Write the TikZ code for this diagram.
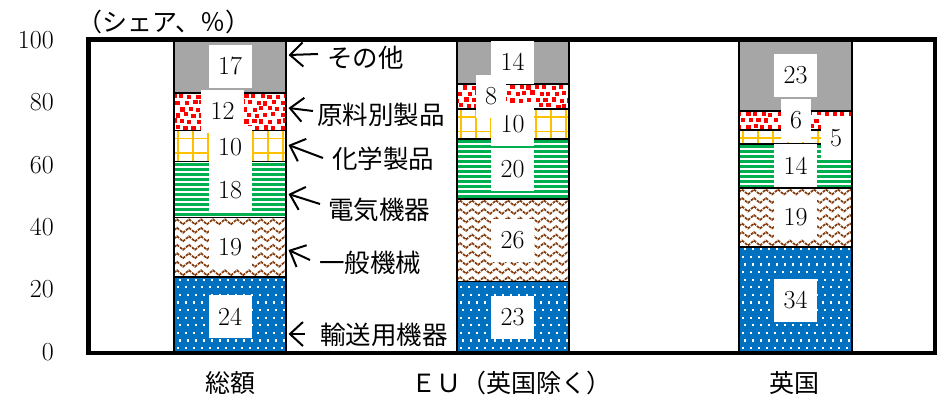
\documentclass[tikz,border=0pt]{standalone}
\usepackage{fontspec}
\newfontfamily\jp{Noto Sans CJK JP}
\usetikzlibrary{arrows.meta,decorations.pathmorphing}
\definecolor{greyc}{HTML}{A6A6A6}
\definecolor{redc}{HTML}{FF0000}
\definecolor{yelc}{HTML}{FFC000}
\definecolor{grnc}{HTML}{00B050}
\definecolor{brnc}{HTML}{843C0C}
\definecolor{bluc}{HTML}{0070C0}
% segment macros: #1 x-left, #2 y-top, #3 x-right, #4 y-bottom (pixel coords, y down)
\newcommand{\segGrey}[4]{\fill[greyc] (#1,#2) rectangle (#3,#4);}
\newcommand{\segRed}[4]{\begin{scope}
  \clip (#1,#2) rectangle (#3,#4);
  \fill[white] (#1,#2) rectangle (#3,#4);
  \foreach \ri in {0,...,7}{\foreach \ci in {0,...,15}{%
    \pgfmathsetmacro\px{#1-2+\ci*8+mod(\ri,2)*4+rnd*3-1.5}%
    \pgfmathsetmacro\py{#2+1+\ri*6.3+rnd*2-1}%
    \fill[redc] (\px,\py) rectangle ++(4.3,4.3);}}
  \end{scope}}
\newcommand{\segYel}[4]{\begin{scope}
  \clip (#1,#2) rectangle (#3,#4);
  \fill[white] (#1,#2) rectangle (#3,#4);
  \foreach \k in {0,...,8}{\draw[yelc,line width=1.7] ({#1+4.3+15*\k},#2) -- ({#1+4.3+15*\k},#4);}
  \foreach \k in {0,...,4}{\draw[yelc,line width=1.7] (#1,{#2+8+14.4*\k}) -- (#3,{#2+8+14.4*\k});}
  \end{scope}}
\newcommand{\segGrn}[4]{\begin{scope}
  \clip (#1,#2) rectangle (#3,#4);
  \fill[white] (#1,#2) rectangle (#3,#4);
  \foreach \k in {0,...,24}{\draw[grnc,line width=2.6] (#1,{#2+2.5+5*\k}) -- (#3,{#2+2.5+5*\k});}
  \end{scope}}
\newcommand{\segBrn}[4]{\begin{scope}
  \clip (#1,#2) rectangle (#3,#4);
  \fill[white] (#1,#2) rectangle (#3,#4);
  \foreach \k in {0,...,13}{\draw[brnc,line width=1.7,dash pattern=on 2.8pt off 1.1pt,
     decorate,decoration={zigzag,segment length=12pt,amplitude=2.5pt}]
     ({#1-12},{#2+4+8.5*\k}) -- ({#3+12},{#2+4+8.5*\k});}
  \end{scope}}
\newcommand{\segBlu}[4]{\begin{scope}
  \clip (#1,#2) rectangle (#3,#4);
  \fill[bluc] (#1,#2) rectangle (#3,#4);
  \foreach \ri in {0,...,14}{\foreach \ci in {0,...,14}{%
    \fill[white] ({#1+3+\ci*8+mod(\ri,2)*2},{#4-5-\ri*7.6}) rectangle ++(2.2,2.2);}}
  \end{scope}}
% #1 x1, #2 x2, #3 bottom, #4..#9 tops of blue, brown, green, yellow, red, grey
\newcommand{\stackbar}[9]{%
  \segBlu{#1}{#4}{#2}{#3}
  \segBrn{#1}{#5}{#2}{#4}
  \segGrn{#1}{#6}{#2}{#5}
  \segYel{#1}{#7}{#2}{#6}
  \segRed{#1}{#8}{#2}{#7}
  \segGrey{#1}{#9}{#2}{#8}
  \foreach \ya/\yb in {#3/#4,#4/#5,#5/#6,#6/#7,#7/#8,#8/#9}{\draw[segline] (#1,\ya) rectangle (#2,\yb);}}
\begin{document}
\begin{tikzpicture}[x=1pt,y=-1pt,
  segline/.style={black,line width=1.3},
  lbl/.style={fill=white,inner sep=0pt,minimum width=43pt,minimum height=43pt,
     font=\fontsize{26}{26}\selectfont},
  lbln/.style={lbl,minimum width=30pt},
  tick/.style={anchor=east,inner sep=0pt,font=\fontsize{26}{26}\selectfont},
  leg/.style={anchor=west,inner sep=0pt,font=\jp\fontsize{25.5}{26}\selectfont},
  cat/.style={inner sep=0pt,font=\jp\fontsize{25}{26}\selectfont},
  arr/.style={-{Straight Barb[length=13pt,width=24pt]},line width=2,black}]
\useasboundingbox (0,0) rectangle (938,400);
\pgfmathsetseed{7}
% bars
\stackbar{174}{286}{352}{277.1}{217.8}{161.7}{130.5}{93}{40}
\stackbar{457}{569}{352}{281.5}{199}{139}{109}{84}{40}
\stackbar{739}{852}{352}{247}{188}{144}{130}{111}{40}
% frame
\draw[line width=4.5] (88.5,39.5) rectangle (935,353);
% value labels
\node[lbl] (v1a) at (230,316.5) {24};
\node[lbl] (v1b) at (230,247.5) {19};
\node[lbl] (v1c) at (230,190) {18};
\node[lbl] (v1d) at (230,147) {10};
\node[lbl] (v1e) at (222.5,111) {12};
\node[lbl] (v1f) at (230,66) {17};
\node[lbl] (v2a) at (512.5,317) {23};
\node[lbl] (v2b) at (512.5,240) {26};
\node[lbl] (v2c) at (512.5,169) {20};
\node[lbl] (v2d) at (512.5,124) {10};
\node[lbl] (v2f) at (512.5,62) {14};
\node[lbln] (v2e) at (491,96.5) {8};
\node[lbl] (v3a) at (795.5,300.5) {34};
\node[lbl] (v3b) at (795.5,217.5) {19};
\node[lbl] (v3c) at (795.5,165.5) {14};
\node[lbln] (v3d) at (836,138.5) {5};
\node[lbln] (v3e) at (796,120.5) {6};
\node[lbl] (v3f) at (795.5,75.5) {23};
% y ticks
\node[tick] (t100) at (54,40) {100};
\node[tick] (t80) at (54,102.4) {80};
\node[tick] (t60) at (54,164.8) {60};
\node[tick] (t40) at (54,227.2) {40};
\node[tick] (t20) at (54,289.6) {20};
\node[tick] (t0) at (54,352) {0};
% axis title
\node[cat] (ytitle) at (164,22) {（シェア、％）};
% categories
\node[cat] (c1) at (230,383) {総額};
\node[cat] (c2) at (511,383) {ＥＵ（英国除く）};
\node[cat] (c3) at (794,383) {英国};
% legend
\node[leg] (lg1) at (327,58) {その他};
\node[leg] (lg2) at (317,115) {原料別製品};
\node[leg] (lg3) at (332,159) {化学製品};
\node[leg] (lg4) at (328,210) {電気機器};
\node[leg] (lg5) at (319,263) {一般機械};
\node[leg] (lg6) at (320,335) {輸送用機器};
\coordinate (a1s) at (318,54);  \coordinate (a1e) at (288.5,55);
\coordinate (a2s) at (313,111); \coordinate (a2e) at (288.5,108);
\coordinate (a3s) at (323,158); \coordinate (a3e) at (288.5,145);
\coordinate (a4s) at (320,204); \coordinate (a4e) at (288.5,194);
\coordinate (a5s) at (310,260); \coordinate (a5e) at (288.5,250);
\coordinate (a6s) at (305,334); \coordinate (a6e) at (288.5,334);
\draw[arr] (a1s) -- (a1e);
\draw[arr] (a2s) -- (a2e);
\draw[arr] (a3s) -- (a3e);
\draw[arr] (a4s) -- (a4e);
\draw[arr] (a5s) -- (a5e);
\draw[arr] (a6s) -- (a6e);
\end{tikzpicture}
\end{document}
